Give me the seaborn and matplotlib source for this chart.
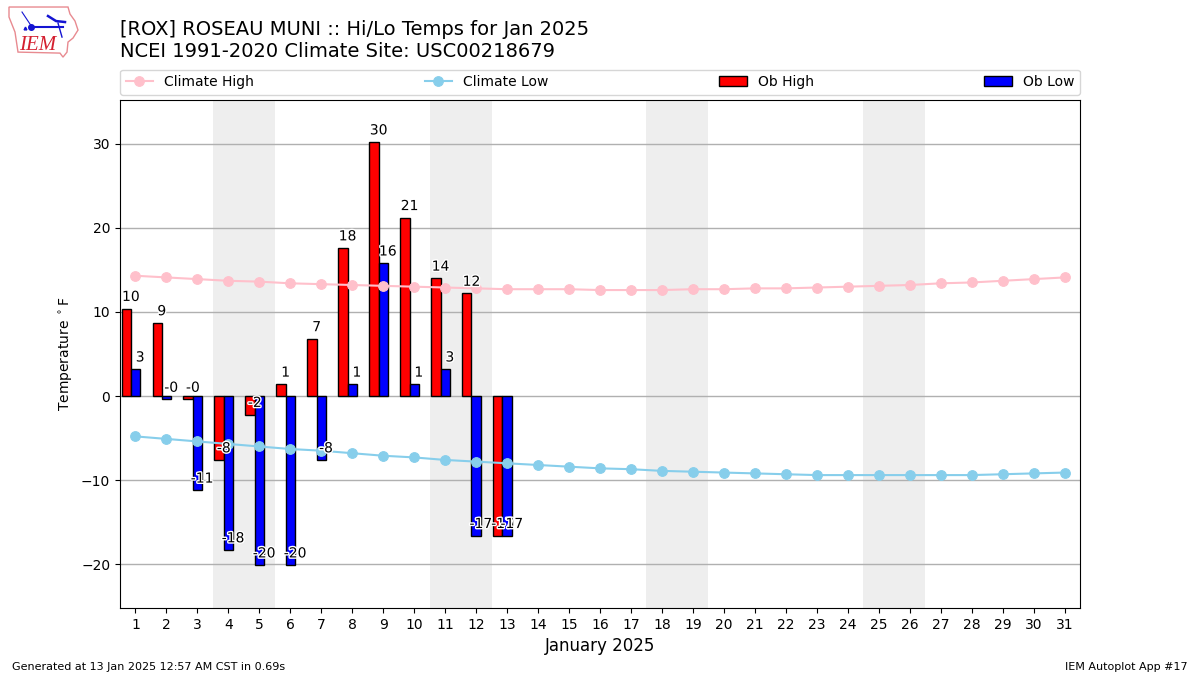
import matplotlib
matplotlib.use("Agg")
import matplotlib.pyplot as plt
import matplotlib.patheffects as pe
from matplotlib.patches import Patch, Polygon
import pandas as pd
import seaborn as sns

title_lines = ["[ROX] ROSEAU MUNI :: Hi/Lo Temps for Jan 2025",
               "NCEI 1991-2020 Climate Site: USC00218679"]
days = list(range(1, 32))
ob_days = list(range(1, 14))
weekend_starts = [4, 11, 18, 25]
ob_high = [10.4, 8.7, -0.4, -7.6, -2.2, 1.4, 6.8, 17.6, 30.2, 21.2, 14.0, 12.2, -16.6]
ob_low = [3.2, -0.4, -11.2, -18.3, -20.1, -20.1, -7.6, 1.4, 15.8, 1.4, 3.2, -16.6, -16.6]
climate_high = [14.3, 14.1, 13.9, 13.7, 13.6, 13.4, 13.3, 13.2, 13.1, 13.0, 12.9,
                12.8, 12.7, 12.7, 12.7, 12.6, 12.6, 12.6, 12.7, 12.7, 12.8, 12.8,
                12.9, 13.0, 13.1, 13.2, 13.4, 13.5, 13.7, 13.9, 14.1]
climate_low = [-4.8, -5.1, -5.4, -5.7, -6.0, -6.3, -6.5, -6.8, -7.1, -7.3, -7.6,
               -7.8, -8.0, -8.2, -8.4, -8.6, -8.7, -8.9, -9.0, -9.1, -9.2, -9.3,
               -9.4, -9.4, -9.4, -9.4, -9.4, -9.4, -9.3, -9.2, -9.1]

fig = plt.figure(figsize=(12, 6.75), dpi=100)
ax = fig.add_axes([0.1, 0.0993, 0.8, 0.7526])

# weekend shading
for start in weekend_starts:
    ax.axvspan(start - 0.5, start + 1.5, color="#eeeeee", zorder=0, lw=0)

ax.grid(axis="y", color="#b0b0b0", lw=1, zorder=1)
ax.set_axisbelow(True)

# bars are dodged around day - 0.15, so high sits left of the tick
bars = pd.DataFrame({
    "pos": [d - 0.15 for d in ob_days] * 2,
    "temp": ob_high + ob_low,
    "series": ["Ob High"] * len(ob_days) + ["Ob Low"] * len(ob_days),
})
sns.barplot(data=bars, x="pos", y="temp", hue="series", native_scale=True,
            palette={"Ob High": "red", "Ob Low": "blue"}, width=0.6, gap=0,
            saturation=1, edgecolor="k", linewidth=1, legend=False, ax=ax, zorder=2)

climate = pd.DataFrame({"day": days, "high": climate_high, "low": climate_low})
sns.lineplot(data=climate, x="day", y="high", color="pink", marker="o", markersize=7,
             markeredgecolor="pink", lw=1.5, label="Climate High", legend=False, ax=ax, zorder=3)
sns.lineplot(data=climate, x="day", y="low", color="skyblue", marker="o", markersize=7,
             markeredgecolor="skyblue", lw=1.5, label="Climate Low", legend=False, ax=ax, zorder=3)

halo = [pe.withStroke(linewidth=2, foreground="white")]
for day, hi, lo in zip(ob_days, ob_high, ob_low):
    ax.text(day - 0.15, hi + 0.55, f"{hi:.0f}", ha="center", va="bottom", fontsize=10,
            path_effects=halo, zorder=5)
    ax.text(day + 0.15, lo + 0.55, f"{lo:.0f}", ha="center", va="bottom", fontsize=10,
            path_effects=halo, zorder=5)

ax.set_xlim(0.5, 31.5)
ax.set_ylim(-25.2, 35.2)
ax.set_xticks(days)
ax.set_xticklabels([str(d) for d in days])
ax.set_yticks([-20, -10, 0, 10, 20, 30])
ax.set_xlabel("January 2025", fontsize=12)
ax.set_ylabel(r"Temperature $^\circ$F")

handles = [ax.lines[-2], ax.lines[-1],
           Patch(facecolor="red", edgecolor="k"), Patch(facecolor="blue", edgecolor="k")]
labels = ["Climate High", "Climate Low", "Ob High", "Ob Low"]
ax.legend(handles, labels, ncol=4, mode="expand", loc="lower left",
          bbox_to_anchor=(0, 1.0105, 1, 0.05), borderaxespad=0)

fig.text(0.1, 0.909, "\n".join(title_lines), fontsize=14, ha="left", va="bottom",
         linespacing=1.2)
fig.text(0.01, 0.0075, "Generated at 13 Jan 2025 12:57 AM CST in 0.69s", fontsize=8)
fig.text(0.99, 0.0075, "IEM Autoplot App #17", fontsize=8, ha="right")

# rough IEM logo: state outline, station model, red lettering
logo = fig.add_axes([0, 0.905, 0.07, 0.095])
logo.set_xlim(0, 84)
logo.set_ylim(64, 0)
logo.axis("off")
logo.add_patch(Polygon([(9, 7), (68, 7), (70, 14), (75, 21), (78, 30), (73, 38), (68, 42),
                        (67, 52), (63, 57), (60, 53), (18, 52), (15, 32), (9, 17)],
                       fill=False, edgecolor="#e88a90", lw=1))
logo.plot([32, 63], [27, 27], color="#1414d2", lw=1.5)
logo.plot([31], [27], "o", color="#1414d2", ms=4)
logo.plot([22, 32], [12, 27], color="#1414d2", lw=0.8)
logo.plot([48, 56, 65], [16, 21, 22], color="#1414d2", lw=1.8)
logo.plot([58, 62], [23, 37], color="#1414d2", lw=1)
logo.plot([25], [28], "^", color="#1414d2", ms=2)
logo.text(38, 45, "IEM", color="#d42030", fontsize=15, style="italic", family="Liberation Serif",
          ha="center", va="center")

fig.savefig("out.png", dpi=100)
